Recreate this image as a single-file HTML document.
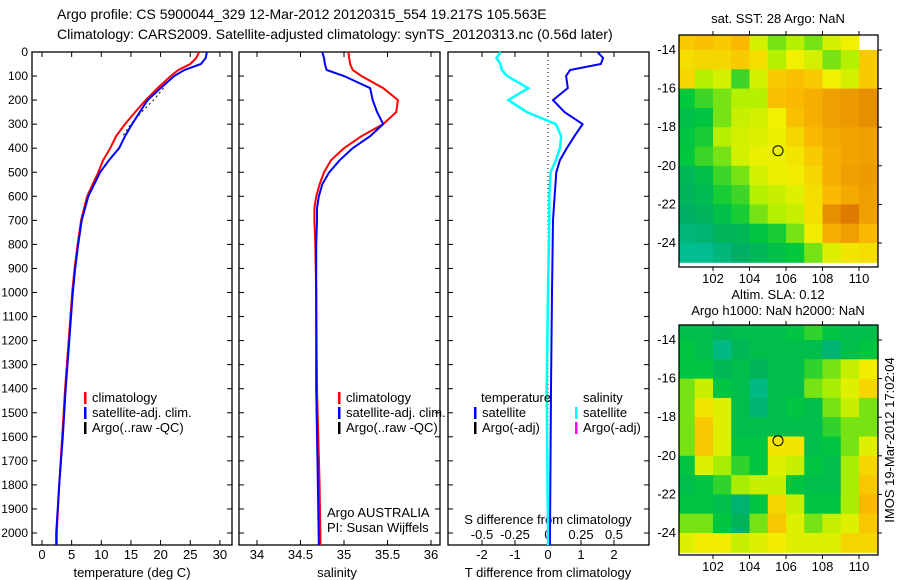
<!DOCTYPE html>
<html><head><meta charset="utf-8">
<style>
html,body{margin:0;padding:0;background:#fff;}
svg{display:block;font-family:"Liberation Sans",sans-serif;font-size:13px;}
.dl{font-size:12px;}
</style></head>
<body>
<svg id="c" width="900" height="580" xmlns="http://www.w3.org/2000/svg">
<text x="57" y="19" style="font-size:14px">Argo profile: CS 5900044_329 12-Mar-2012 20120315_554 19.217S 105.563E</text>
<text x="57" y="39" style="font-size:14px">Climatology: CARS2009. Satellite-adjusted climatology: synTS_20120313.nc (0.56d later)</text>
<text x="778" y="23" text-anchor="middle">sat. SST: 28 Argo: NaN</text>
<text x="778" y="299" text-anchor="middle">Altim. SLA: 0.12</text>
<text x="778" y="315" text-anchor="middle">Argo h1000: NaN h2000: NaN</text>
<text transform="translate(894,440) rotate(-90)" text-anchor="middle">IMOS 19-Mar-2012 17:02:04</text>
<g id="g"></g>
</svg>
<script>
// ---- profile data ----
const depths = [0,25,50,75,100,150,200,250,300,350,400,450,500,600,700,800,900,1000,1200,1400,1600,1800,2000,2050];
const climT = [26.5,26,25,23,21.7,19.5,17.5,15.7,14,12.5,11.5,10.3,9.5,7.6,6.6,6,5.5,5.1,4.5,3.9,3.4,2.9,2.5,2.5];
const satT = [27.8,27.6,26.8,24,22.3,20,17.8,16.5,15.2,14,13,11.3,9.8,7.8,6.7,6.1,5.6,5.2,4.6,4,3.5,2.9,2.4,2.4];
const sDepths = [0,25,50,75,100,150,200,250,300,350,400,450,500,550,600,650,700,800,1000,1400,1800,2050];
const climS = [35.05,35.06,35.07,35.1,35.2,35.45,35.62,35.6,35.45,35.2,35.0,34.85,34.77,34.72,34.68,34.66,34.66,34.67,34.68,34.69,34.72,34.73];
const satS = [34.75,34.77,34.78,34.8,35.0,35.3,35.33,35.38,35.45,35.3,35.1,34.95,34.83,34.75,34.71,34.69,34.69,34.68,34.68,34.68,34.7,34.71];
const dDepths = [0,25,50,75,100,150,200,250,300,350,400,450,500,600,700,1000,1400,2000,2050];
const dT = [1.5,1.67,1.6,0.67,0.55,0.6,0.15,0.5,1.05,0.8,0.57,0.36,0.25,0.2,0.15,0.12,0.09,0.06,0.06];
const dS = [-0.36,-0.39,-0.36,-0.35,-0.31,-0.15,-0.3,-0.16,0.06,0.1,0.09,0.06,0.02,0.01,0.01,0,-0.01,0,0];
const argoDepths = [150,200,250,300,350];
const argoT = [20.5,18.8,16.8,15,13.6];
const depthTicks = [0,100,200,300,400,500,600,700,800,900,1000,1100,1200,1300,1400,1500,1600,1700,1800,1900,2000];
const tTicks = [0,5,10,15,20,25,30];
const sTicks = [34,34.5,35,35.5,36];
const sTickLabels = ["34","34.5","35","35.5","36"];
const dTTicks = [-2,-1,0,1,2];
const dSTicks = [-0.5,-0.25,0,0.25,0.5];
const dSTickLabels = ["-0.5","-0.25","0","0.25","0.5"];
// ---- map data (normalized colour values, rows from north to south, 1deg cells from 100E) ----
const sstGrid = [
[0.75,0.78,0.75,0.8,0.6,0.5,0.55,0.5,0.6,0.65,null],
[0.7,0.72,0.72,0.75,0.7,0.55,0.65,0.6,0.5,0.55,0.75],
[0.72,0.55,0.6,0.45,0.6,0.75,0.78,0.75,0.65,0.6,0.75],
[0.4,0.45,0.5,0.55,0.55,0.78,0.8,0.82,0.85,0.86,0.88],
[0.35,0.38,0.5,0.58,0.6,0.65,0.78,0.82,0.85,0.86,0.88],
[0.38,0.42,0.55,0.6,0.62,0.64,0.72,0.8,0.83,0.84,0.85],
[0.4,0.45,0.5,0.6,0.64,0.64,0.68,0.75,0.82,0.84,0.85],
[0.3,0.35,0.45,0.5,0.6,0.64,0.66,0.72,0.82,0.85,0.86],
[0.28,0.32,0.42,0.45,0.55,0.58,0.62,0.7,0.8,0.83,0.85],
[0.25,0.28,0.35,0.42,0.5,0.55,0.58,0.7,0.88,0.92,0.85],
[0.2,0.22,0.28,0.3,0.38,0.42,0.5,0.66,0.82,0.85,0.8],
[0.15,0.15,0.2,0.25,0.3,0.35,0.4,0.5,0.62,0.68,0.7]];
const slaGrid = [
[0.34,0.34,0.3,0.34,0.34,0.34,0.38,0.44,0.38,0.34,0.34],
[0.38,0.34,0.18,0.3,0.34,0.34,0.34,0.34,0.22,0.34,0.38],
[0.38,0.38,0.3,0.34,0.28,0.34,0.34,0.44,0.5,0.58,0.66],
[0.5,0.58,0.38,0.34,0.18,0.34,0.34,0.5,0.54,0.62,0.72],
[0.5,0.68,0.62,0.34,0.22,0.34,0.38,0.34,0.5,0.58,0.5],
[0.5,0.76,0.62,0.34,0.34,0.34,0.34,0.34,0.44,0.5,0.5],
[0.5,0.76,0.62,0.38,0.38,0.68,0.68,0.34,0.38,0.5,0.62],
[0.38,0.62,0.54,0.44,0.38,0.62,0.58,0.38,0.34,0.54,0.72],
[0.34,0.38,0.44,0.54,0.58,0.58,0.38,0.34,0.34,0.54,0.76],
[0.38,0.38,0.34,0.22,0.38,0.72,0.58,0.38,0.38,0.54,0.8],
[0.5,0.5,0.38,0.28,0.5,0.76,0.62,0.5,0.58,0.62,0.76],
[0.62,0.66,0.66,0.58,0.62,0.66,0.62,0.62,0.62,0.72,0.72]];
const lonTicks = [102,104,106,108,110];
const latTicks = [-14,-16,-18,-20,-22,-24];
const argoPos = [105.563,-19.217];

const NS='http://www.w3.org/2000/svg';
const G=document.getElementById('g');
function el(t,a,p){const e=document.createElementNS(NS,t);for(const k in a)e.setAttribute(k,a[k]);(p||G).appendChild(e);return e;}
const yTop=52, yPx=0.2405, yBot=545;
const yD=d=>yTop+d*yPx;
function panel(x0,x1,name){
  const r=el('rect',{x:x0,y:yTop,width:x1-x0,height:yBot-yTop,fill:'none',stroke:'#000','stroke-width':1.3});
  
  
  depthTicks.forEach(d=>{el('line',{x1:x0,x2:x0+5,y1:yD(d),y2:yD(d),stroke:'#000'});el('line',{x1:x1,x2:x1-5,y1:yD(d),y2:yD(d),stroke:'#000'});});
}
function line(xs,ds,xf,color,w,name,dash){
  const pts=xs.map((v,i)=>xf(v).toFixed(1)+','+yD(ds[i]).toFixed(1)).join(' ');
  const p=el('polyline',{points:pts,fill:'none',stroke:color,'stroke-width':w});
  if(dash)p.setAttribute('stroke-dasharray',dash);
  
  
}
function txt(x,y,s,anchor,name){const t=el('text',{x:x,y:y,'text-anchor':anchor||'start'});t.textContent=s;
  
  return t;}
function legend(x,y,items,name){items.forEach((it,i)=>{el('rect',{x:x,y:y+i*15-10,width:2.5,height:12,fill:it[1]});txt(x+8,y+i*15,it[0],'start',name);});}

// Panel 1: temperature
const xT=v=>42+v*5.93;
panel(32,232,'temperature-panel');
depthTicks.forEach(d=>txt(28,yD(d)+4,String(d),'end','depth-tick-label').setAttribute('class','dl'));
tTicks.forEach(v=>{el('line',{x1:xT(v),x2:xT(v),y1:yBot,y2:yBot-5,stroke:'#000'});el('line',{x1:xT(v),x2:xT(v),y1:yTop,y2:yTop+5,stroke:'#000'});txt(xT(v),559,String(v),'middle','temperature-tick-label');});
txt(132,577,'temperature (deg C)','middle','temperature-axis-title');
line(argoT,argoDepths,xT,'#000',1,'argo-temperature-line','2,3');
line(climT,depths,xT,'#f00',2,'climatology-temperature-line');
line(satT,depths,xT,'#00f',2,'satellite-temperature-line');
legend(84,402,[['climatology','#f00'],['satellite-adj. clim.','#00f'],['Argo(..raw -QC)','#000']],'temperature-legend-entry');

// Panel 2: salinity
const xS=v=>257+(v-34)*87;
panel(239,440,'salinity-panel');
sTicks.forEach((v,i)=>{el('line',{x1:xS(v),x2:xS(v),y1:yBot,y2:yBot-5,stroke:'#000'});el('line',{x1:xS(v),x2:xS(v),y1:yTop,y2:yTop+5,stroke:'#000'});txt(xS(v),559,sTickLabels[i],'middle','salinity-tick-label');});
txt(337,577,'salinity','middle','salinity-axis-title');
line(climS,sDepths,xS,'#f00',2,'climatology-salinity-line');
line(satS,sDepths,xS,'#00f',2,'satellite-salinity-line');
legend(338,402,[['climatology','#f00'],['satellite-adj. clim.','#00f'],['Argo(..raw -QC)','#000']],'salinity-legend-entry');
txt(327,517,'Argo AUSTRALIA','start','institution-label');
txt(327,532,'PI: Susan Wijffels','start','pi-label');

// Panel 3: differences
const xdT=v=>548+v*33;
const xdS=v=>548+v*132;
panel(448,649,'difference-panel');
el('line',{x1:548,x2:548,y1:yTop,y2:yBot,stroke:'#000','stroke-dasharray':'1,3'});
dTTicks.forEach(v=>{el('line',{x1:xdT(v),x2:xdT(v),y1:yTop,y2:yTop+5,stroke:'#000'});txt(xdT(v),559,String(v),'middle','t-diff-tick-label');});
dSTicks.forEach((v,i)=>{el('line',{x1:xdS(v),x2:xdS(v),y1:yBot,y2:yBot-5,stroke:'#000'});txt(xdS(v),539,dSTickLabels[i],'middle','s-diff-tick-label');});
txt(548,524,'S difference from climatology','middle','s-diff-axis-title');
txt(548,577,'T difference from climatology','middle','t-diff-axis-title');
line(dS,dDepths,xdS,'#0ff',2.5,'salinity-difference-line');
line(dT,dDepths,xdT,'#00f',2,'temperature-difference-line');
txt(481,402,'temperature','start','diff-legend-header');
txt(583,402,'salinity','start','diff-legend-header');
legend(474,417,[['satellite','#00f'],['Argo(-adj)','#000']],'diff-legend-entry');
legend(575,417,[['satellite','#0ff'],['Argo(-adj)','#f0f']],'diff-legend-entry');

// Maps
const stops=[[0,[0,210,210]],[0.25,[0,175,100]],[0.4,[0,200,60]],[0.55,[180,240,0]],[0.65,[240,240,0]],[0.8,[250,185,0]],[1,[205,80,0]]];
function cmap(v){for(let i=1;i<stops.length;i++){if(v<=stops[i][0]){const a=stops[i-1],b=stops[i],t=(v-a[0])/(b[0]-a[0]);return 'rgb('+a[1].map((c,k)=>Math.round(c+(b[1][k]-c)*t)).join(',')+')';}}return 'rgb(205,80,0)';}
function map(grid,x0,x1,y0,y1,name){
  const lonX=l=>713+(l-102)*18.25;
  const latY=l=>(y0+15)+(-14-l)*19.3;
  grid.forEach((row,r)=>row.forEach((v,c)=>{
    if(v===null)return;
    const xa=Math.max(x0,lonX(100+c)), xb=Math.min(x1,lonX(101+c));
    const ya=Math.max(y0,latY(-13-r)), yb=Math.min(y1,latY(-14-r));
    const cell=el('rect',{x:xa,y:ya,width:xb-xa+0.5,height:yb-ya+0.5,fill:cmap(v)});
    
    
  }));
  const fr=el('rect',{x:x0,y:y0,width:x1-x0,height:y1-y0,fill:'none',stroke:'#000','stroke-width':1.3});
  
  
  lonTicks.forEach(l=>{el('line',{x1:lonX(l),x2:lonX(l),y1:y1,y2:y1+4,stroke:'#000'});el('line',{x1:lonX(l),x2:lonX(l),y1:y0,y2:y0-4,stroke:'#000'});txt(lonX(l),y1+16,String(l),'middle',name+'-lon-label');});
  latTicks.forEach(l=>{el('line',{x1:x1,x2:x1+4,y1:latY(l),y2:latY(l),stroke:'#000'});txt(x0-3,latY(l)+4,String(l),'end',name+'-lat-label');});
  const m=el('circle',{cx:lonX(argoPos[0]),cy:latY(argoPos[1]),r:5,fill:'none',stroke:'#000','stroke-width':1});
  
  
}
map(sstGrid,679,878,35,267,'sst-map');
map(slaGrid,679,878,325,555,'sla-map');
</script>
</body></html>
